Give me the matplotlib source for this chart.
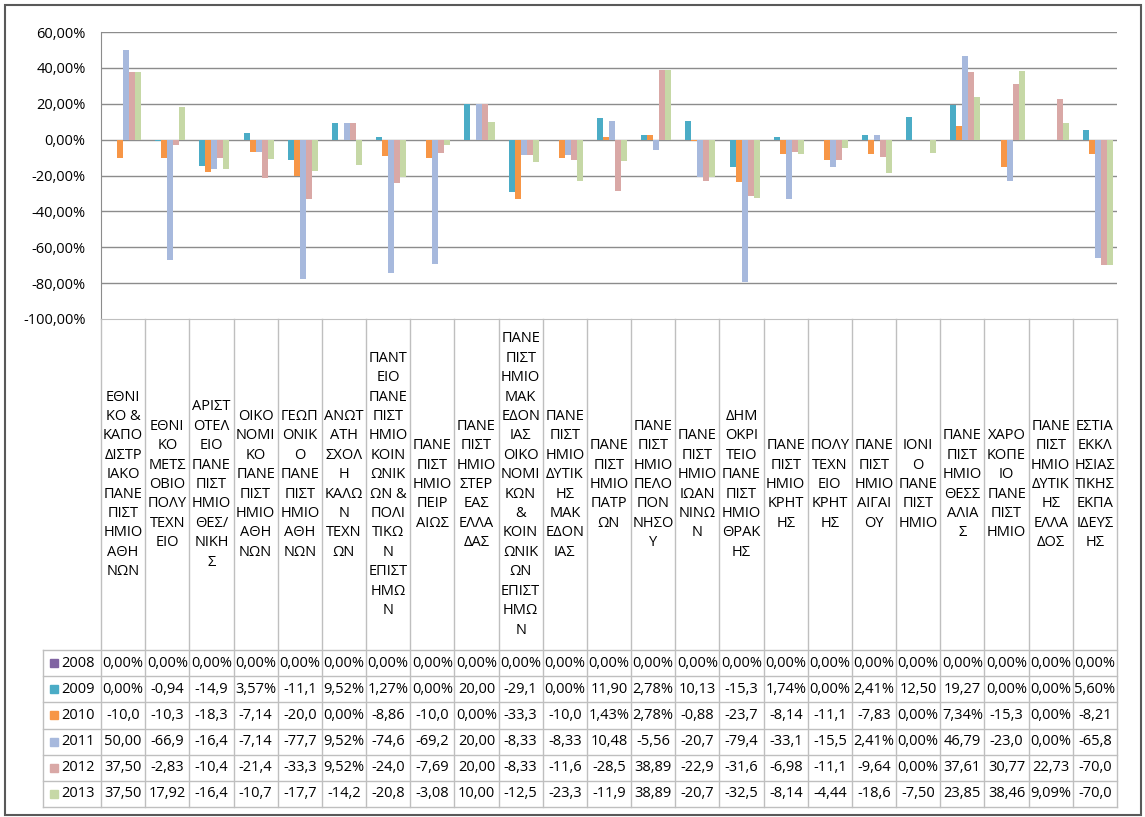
import matplotlib
matplotlib.use('Agg')
import matplotlib.pyplot as plt
from matplotlib.patches import Rectangle
import numpy as np

plt.rcParams['font.family'] = ['Open Sans', 'DejaVu Sans']

# Ιδρύματα (με τις αλλαγές γραμμής όπως στο πρωτότυπο)
ιδρυματα = [
    "ΕΘΝΙ\nΚΟ &\nΚΑΠΟ\nΔΙΣΤΡ\nΙΑΚΟ\nΠΑΝΕ\nΠΙΣΤ\nΗΜΙΟ\nΑΘΗ\nΝΩΝ",
    "ΕΘΝΙ\nΚΟ\nΜΕΤΣ\nΟΒΙΟ\nΠΟΛΥ\nΤΕΧΝ\nΕΙΟ",
    "ΑΡΙΣΤ\nΟΤΕΛ\nΕΙΟ\nΠΑΝΕ\nΠΙΣΤ\nΗΜΙΟ\nΘΕΣ/\nΝΙΚΗ\nΣ",
    "ΟΙΚΟ\nΝΟΜΙ\nΚΟ\nΠΑΝΕ\nΠΙΣΤ\nΗΜΙΟ\nΑΘΗ\nΝΩΝ",
    "ΓΕΩΠ\nΟΝΙΚ\nΟ\nΠΑΝΕ\nΠΙΣΤ\nΗΜΙΟ\nΑΘΗ\nΝΩΝ",
    "ΑΝΩΤ\nΑΤΗ\nΣΧΟΛ\nΗ\nΚΑΛΩ\nΝ\nΤΕΧΝ\nΩΝ",
    "ΠΑΝΤ\nΕΙΟ\nΠΑΝΕ\nΠΙΣΤ\nΗΜΙΟ\nΚΟΙΝ\nΩΝΙΚ\nΩΝ &\nΠΟΛΙ\nΤΙΚΩ\nΝ\nΕΠΙΣΤ\nΗΜΩ\nΝ",
    "ΠΑΝΕ\nΠΙΣΤ\nΗΜΙΟ\nΠΕΙΡ\nΑΙΩΣ",
    "ΠΑΝΕ\nΠΙΣΤ\nΗΜΙΟ\nΣΤΕΡ\nΕΑΣ\nΕΛΛΑ\nΔΑΣ",
    "ΠΑΝΕ\nΠΙΣΤ\nΗΜΙΟ\nΜΑΚ\nΕΔΟΝ\nΙΑΣ\nΟΙΚΟ\nΝΟΜΙ\nΚΩΝ\n&\nΚΟΙΝ\nΩΝΙΚ\nΩΝ\nΕΠΙΣΤ\nΗΜΩ\nΝ",
    "ΠΑΝΕ\nΠΙΣΤ\nΗΜΙΟ\nΔΥΤΙΚ\nΗΣ\nΜΑΚ\nΕΔΟΝ\nΙΑΣ",
    "ΠΑΝΕ\nΠΙΣΤ\nΗΜΙΟ\nΠΑΤΡ\nΩΝ",
    "ΠΑΝΕ\nΠΙΣΤ\nΗΜΙΟ\nΠΕΛΟ\nΠΟΝ\nΝΗΣΟ\nΥ",
    "ΠΑΝΕ\nΠΙΣΤ\nΗΜΙΟ\nΙΩΑΝ\nΝΙΝΩ\nΝ",
    "ΔΗΜ\nΟΚΡΙ\nΤΕΙΟ\nΠΑΝΕ\nΠΙΣΤ\nΗΜΙΟ\nΘΡΑΚ\nΗΣ",
    "ΠΑΝΕ\nΠΙΣΤ\nΗΜΙΟ\nΚΡΗΤ\nΗΣ",
    "ΠΟΛΥ\nΤΕΧΝ\nΕΙΟ\nΚΡΗΤ\nΗΣ",
    "ΠΑΝΕ\nΠΙΣΤ\nΗΜΙΟ\nΑΙΓΑΙ\nΟΥ",
    "ΙΟΝΙ\nΟ\nΠΑΝΕ\nΠΙΣΤ\nΗΜΙΟ",
    "ΠΑΝΕ\nΠΙΣΤ\nΗΜΙΟ\nΘΕΣΣ\nΑΛΙΑ\nΣ",
    "ΧΑΡΟ\nΚΟΠΕ\nΙΟ\nΠΑΝΕ\nΠΙΣΤ\nΗΜΙΟ",
    "ΠΑΝΕ\nΠΙΣΤ\nΗΜΙΟ\nΔΥΤΙΚ\nΗΣ\nΕΛΛΑ\nΔΟΣ",
    "ΕΣΤΙΑ\nΕΚΚΛ\nΗΣΙΑΣ\nΤΙΚΗΣ\nΕΚΠΑ\nΙΔΕΥΣ\nΗΣ",
]

ετη = ['2008', '2009', '2010', '2011', '2012', '2013']

v2008 = [0.0] * 23
v2009 = [0.0, -0.94, -14.9, 3.57, -11.1, 9.52, 1.27, 0.0, 20.0, -29.1, 0.0,
         11.90, 2.78, 10.13, -15.3, 1.74, 0.0, 2.41, 12.50, 19.27, 0.0, 0.0, 5.60]
v2010 = [-10.0, -10.3, -18.3, -7.14, -20.0, 0.0, -8.86, -10.0, 0.0, -33.3, -10.0,
         1.43, 2.78, -0.88, -23.7, -8.14, -11.1, -7.83, 0.0, 7.34, -15.3, 0.0, -8.21]
v2011 = [50.0, -66.9, -16.4, -7.14, -77.7, 9.52, -74.6, -69.2, 20.0, -8.33, -8.33,
         10.48, -5.56, -20.7, -79.4, -33.1, -15.5, 2.41, 0.0, 46.79, -23.0, 0.0, -65.8]
v2012 = [37.5, -2.83, -10.4, -21.4, -33.3, 9.52, -24.0, -7.69, 20.0, -8.33, -11.6,
         -28.5, 38.89, -22.9, -31.6, -6.98, -11.1, -9.64, 0.0, 37.61, 30.77, 22.73, -70.0]
v2013 = [37.5, 17.92, -16.4, -10.7, -17.7, -14.2, -20.8, -3.08, 10.0, -12.5, -23.3,
         -11.9, 38.89, -20.7, -32.5, -8.14, -4.44, -18.6, -7.50, 23.85, 38.46, 9.09, -70.0]

σειρες = [v2008, v2009, v2010, v2011, v2012, v2013]
χρωματα = ['#8064a2', '#4bacc6', '#f79646', '#a7b9dd', '#d9a8a6', '#c6d8a6']


def μορφη(v):
    # όπως το Excel: 2 δεκαδικά με κόμμα, κομμένο στο πλάτος του κελιού
    return f"{v:.2f}%".replace('.', ',')[:5]


W, H = 1145, 817
fig = plt.figure(figsize=(W / 100, H / 100), dpi=100)

# ---- κύριο γράφημα ----
ax = fig.add_axes([101 / W, 1 - 319 / H, 1016 / W, 287 / H])
x = np.arange(len(ιδρυματα))
w = 0.136
for i, (vals, c) in enumerate(zip(σειρες, χρωματα)):
    ax.bar(x + (i - 2.5) * w, vals, w, color=c, linewidth=0, zorder=3)

ax.set_xlim(-0.5, len(ιδρυματα) - 0.5)
ax.set_ylim(-100, 60)
yt = np.arange(-100, 61, 20)
ax.set_yticks(yt)
ax.set_yticklabels([f"{v:.2f}%".replace('.', ',') for v in yt], fontsize=10.5)
ax.tick_params(axis='y', length=0, pad=11)
ax.set_xticks([])
for v in yt[1:]:
    ax.axhline(v, color='#8c8c8c', lw=1, zorder=1)
for s in ['top', 'right']:
    ax.spines[s].set_visible(False)
ax.spines['left'].set_color('#8c8c8c')
ax.spines['bottom'].set_color('#bfbfbf')

# ---- ετικέτες & πίνακας δεδομένων ----
tab = fig.add_axes([101 / W, 1 - 807 / H, 1016 / W, 488 / H])
tab.set_xlim(-0.5, len(ιδρυματα) - 0.5)
tab.set_ylim(488, 0)
tab.axis('off')

top = 331
rh = (488 - top) / 6
xl = -0.5 - 58 / 44.17
grid = '#bfbfbf'

for k in range(len(ιδρυματα) + 1):
    tab.plot([k - 0.5, k - 0.5], [0, 488], color=grid, lw=1, clip_on=False)
for r in range(7):
    tab.plot([xl, len(ιδρυματα) - 0.5], [top + r * rh] * 2, color=grid, lw=1, clip_on=False)
tab.plot([xl, xl], [top, 488], color=grid, lw=1, clip_on=False)

for k, lab in enumerate(ιδρυματα):
    tab.text(k, top / 2, lab, ha='center', va='center', ma='center',
             fontsize=10.5, linespacing=1.4, color='#000000')

for r, (ετος, vals, c) in enumerate(zip(ετη, σειρες, χρωματα)):
    yc = top + (r + 0.5) * rh
    tab.plot([-0.5 - 47 / 44.17], [yc], 's', color=c, ms=6, clip_on=False)
    tab.text(-0.5 - 40 / 44.17, yc, ετος, ha='left', va='center', fontsize=10.5)
    for k, v in enumerate(vals):
        tab.text(k, yc, μορφη(v), ha='center', va='center', fontsize=10.5)

fig.add_artist(Rectangle((5 / W, 1 - 815 / H), 1136 / W, 810 / H, transform=fig.transFigure,
                         fill=False, edgecolor='#595959', lw=1.5))

fig.savefig('out.png', dpi=100)
